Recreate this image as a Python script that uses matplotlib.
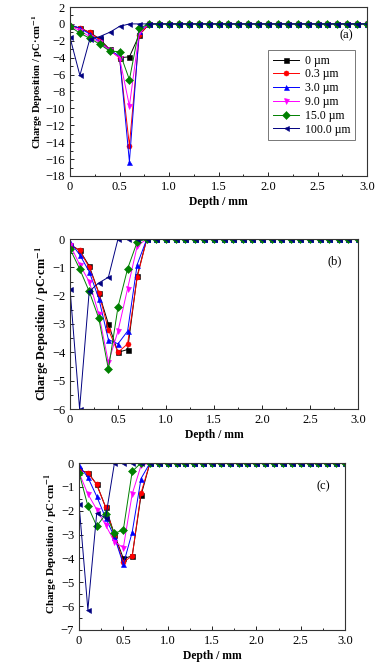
import numpy as np
import matplotlib
matplotlib.use("Agg")
import matplotlib.pyplot as plt
from matplotlib.ticker import MultipleLocator, FuncFormatter

plt.rcParams['font.family'] = ['Liberation Serif', 'DejaVu Serif']
plt.rcParams['mathtext.fontset'] = 'stix'

depth = np.round(np.arange(0, 3.01, 0.1), 1)
labels = ["0 µm", "0.3 µm", "3.0 µm", "9.0 µm", "15.0 µm", "100.0 µm"]
colors = ["#000000", "#ff0000", "#0000ff", "#ff00ff", "#008000", "#000080"]
markers = ["s", "o", "^", "v", "D", "<"]

def pad(vals):
    return vals + [0.0] * (31 - len(vals))

# Panel (a)
a_0um = pad([-0.2, -0.5, -1.0, -1.8, -3.0, -4.0, -3.9, -1.3])
a_03um = pad([-0.2, -0.5, -1.0, -1.9, -3.1, -4.0, -14.4, -1.3])
a_3um = pad([-0.1, -0.5, -1.2, -2.1, -3.1, -3.8, -16.3, -0.8])
a_9um = pad([-0.2, -0.8, -1.5, -2.2, -3.1, -4.0, -9.7, -1.0])
a_15um = pad([-0.3, -1.1, -1.7, -2.4, -3.2, -3.3, -6.6, -0.5])
a_100um = pad([-1.6, -6.1, -1.8, -1.5, -1.0, -0.3])

# Panel (b)
b_0um = pad([-0.2, -0.4, -0.95, -1.9, -3.0, -4.0, -3.9, -1.3])
b_03um = pad([-0.2, -0.4, -1.0, -1.9, -3.2, -4.0, -3.7, -1.35])
b_3um = pad([-0.1, -0.55, -1.15, -2.1, -3.55, -3.7, -3.25, -0.9])
b_9um = pad([-0.2, -0.9, -1.5, -2.65, -4.35, -3.25, -1.75, -0.25])
b_15um = pad([-0.35, -1.05, -1.85, -2.8, -4.6, -2.4, -1.05, -0.1])
b_100um = pad([-1.75, -6.0, -1.85, -1.55, -1.35])

# Panel (c)
c_0um = pad([-0.3, -0.4, -0.9, -1.85, -3.0, -4.0, -3.9, -1.35])
c_03um = pad([-0.3, -0.4, -0.9, -1.85, -3.05, -4.15, -3.9, -1.25])
c_3um = pad([-0.1, -0.6, -1.4, -2.3, -3.1, -4.25, -2.9, -0.65])
c_9um = pad([-0.4, -1.3, -1.95, -2.6, -3.3, -3.55, -1.3, -0.1])
c_15um = pad([-0.4, -1.8, -2.65, -2.15, -2.95, -2.8, -0.35])
c_100um = pad([-1.7, -6.15, -2.1, -2.3])

panels = [
    ("(a)", [a_0um, a_03um, a_3um, a_9um, a_15um, a_100um], (-18, 2), 2, 1,
     (70, 7, 367, 176), (0.93, 0.83), 7.7, 0.56),
    ("(b)", [b_0um, b_03um, b_3um, b_9um, b_15um, b_100um], (-6, 0), 1, 0.5,
     (70, 239, 358, 409), (0.92, 0.87), 8.8, 0.5),
    ("(c)", [c_0um, c_03um, c_3um, c_9um, c_15um, c_100um], (-7, 0), 1, 0.5,
     (79, 463, 345, 630), (0.917, 0.86), 8.0, 0.52),
]

W, H = 385, 662
fig = plt.figure(figsize=(W / 100, H / 100), dpi=100)

def xfmt(v, pos):
    return "0" if abs(v) < 1e-9 else "%.1f" % v

for tag, series, ylim, ymaj, ymin, (l, t, r, b), tagpos, ylfs, ylpos in panels:
    ax = fig.add_axes([l / W, 1 - b / H, (r - l) / W, (b - t) / H])
    for vals, lab, col, mk in zip(series, labels, colors, markers):
        ax.plot(depth, vals, color=col, lw=0.7, marker=mk, ms=3.6,
                markeredgewidth=0.4, label=lab)
    ax.set_xlim(0, 3.0)
    ax.set_ylim(*ylim)
    ax.xaxis.set_major_locator(MultipleLocator(0.5))
    ax.xaxis.set_minor_locator(MultipleLocator(0.25))
    ax.yaxis.set_major_locator(MultipleLocator(ymaj))
    ax.yaxis.set_minor_locator(MultipleLocator(ymin))
    ax.xaxis.set_major_formatter(FuncFormatter(xfmt))
    ax.tick_params(which='both', direction='in', labelsize=9, width=0.6,
                   top=False, right=False)
    ax.tick_params(which='major', length=3)
    ax.tick_params(which='minor', length=1.8)
    for s in ax.spines.values():
        s.set_linewidth(0.8)
        s.set_color('#333333')
    ax.set_xlabel("Depth / mm", fontsize=8.4, fontweight='bold', labelpad=2)
    ax.set_ylabel("Charge Deposition / pC·cm$^{\\mathbf{-1}}$", fontsize=ylfs,
                  fontweight='bold', labelpad=0.5)
    ax.yaxis.label.set_y(ylpos)
    ax.text(tagpos[0], tagpos[1], tag, transform=ax.transAxes, fontsize=9,
            ha='center', va='center')
    if tag == "(a)":
        leg = ax.legend(loc='upper left', bbox_to_anchor=((268 - l) / (r - l), 1 - (50 - t) / (b - t)),
                        fontsize=8.5, frameon=True, fancybox=False,
                        edgecolor='#555555', handlelength=2.2, handletextpad=0.5,
                        labelspacing=0.15, borderpad=0.4, borderaxespad=0)
        leg.get_frame().set_linewidth(0.7)

fig.savefig("out.png", dpi=100)
